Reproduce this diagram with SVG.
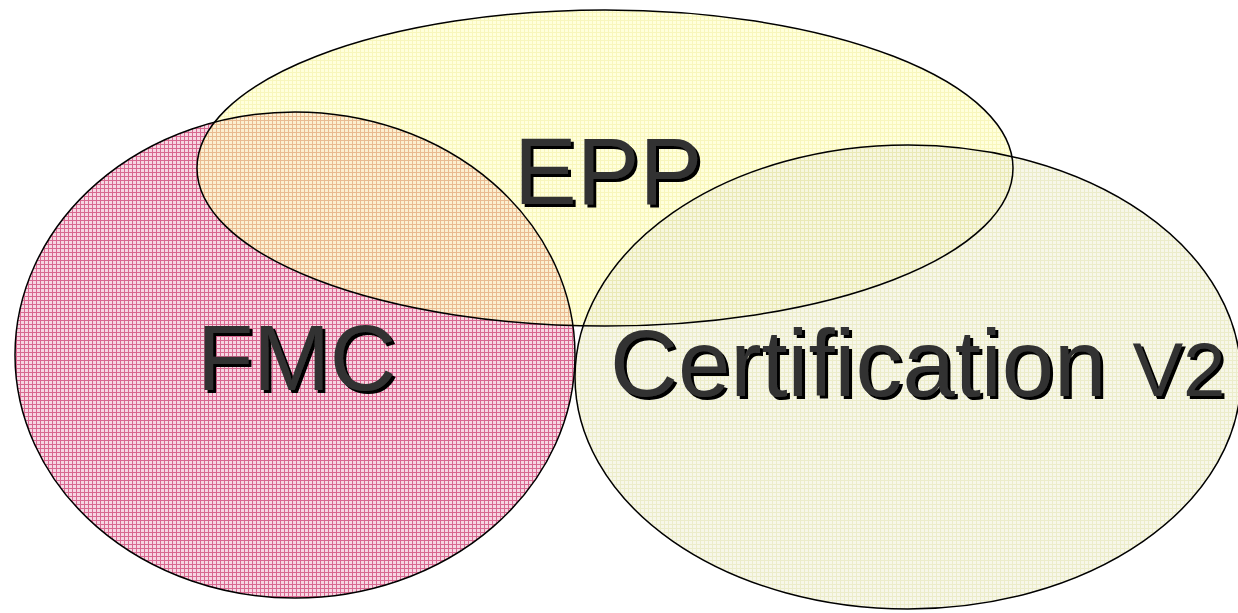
<svg xmlns="http://www.w3.org/2000/svg" width="1238" height="613" viewBox="0 0 1238 613">
<defs>
<pattern id="pPink" patternUnits="userSpaceOnUse" width="4" height="4">
<rect width="4" height="4" fill="#f6d6e2"/>
<rect x="0" y="0" width="4" height="1" fill="#d86890"/>
<rect x="0" y="0" width="1" height="4" fill="#d86890"/>
</pattern>
<pattern id="pYellow" patternUnits="userSpaceOnUse" width="4" height="4">
<rect width="4" height="4" fill="#ffffc4"/>
<rect x="0" y="0" width="4" height="1" fill="#f4f090"/>
<rect x="0" y="0" width="1" height="4" fill="#f4f090"/>
</pattern>
<pattern id="pCream" patternUnits="userSpaceOnUse" width="4" height="4">
<rect width="4" height="4" fill="#f4f4e0"/>
<rect x="0" y="0" width="4" height="1" fill="#e4e4b4"/>
<rect x="0" y="0" width="1" height="4" fill="#e4e4b4"/>
</pattern>
<filter id="shadow" x="-5%" y="-5%" width="110%" height="120%">
<feOffset in="SourceAlpha" dx="3" dy="3" result="off"/>
<feFlood flood-color="#000"/>
<feComposite in2="off" operator="in" result="sh"/>
<feMerge><feMergeNode in="sh"/><feMergeNode in="SourceGraphic"/></feMerge>
</filter>
</defs>
<style>
.outline{fill:none;stroke:#000;stroke-width:1.5}
.lbl{font-family:"Liberation Sans",Arial,sans-serif;fill:#333;filter:url(#shadow)}
</style>
<rect width="1238" height="613" fill="#fff"/>
<g id="connectors"></g>
<g id="fmc">
<ellipse cx="295" cy="355" rx="280" ry="243" fill="url(#pPink)"/>
</g>
<g id="epp">
<ellipse cx="605" cy="168" rx="408" ry="158" fill="url(#pYellow)" fill-opacity="0.6"/>
</g>
<g id="cert">
<ellipse cx="908" cy="377" rx="333" ry="232" fill="url(#pCream)" fill-opacity="0.7"/>
</g>
<g id="outlines">
<ellipse class="outline" cx="295" cy="355" rx="280" ry="243"/>
<ellipse class="outline" cx="605" cy="168" rx="408" ry="158"/>
<ellipse class="outline" cx="908" cy="377" rx="333" ry="232"/>
</g>
<g id="labels">
<text class="lbl" x="514" y="204" font-size="94">EPP</text>
<text class="lbl" x="197" y="390" font-size="92">FMC</text>
<text class="lbl" x="610" y="396"><tspan font-size="94">Certification </tspan><tspan font-size="76">V2</tspan></text>
</g>
</svg>
